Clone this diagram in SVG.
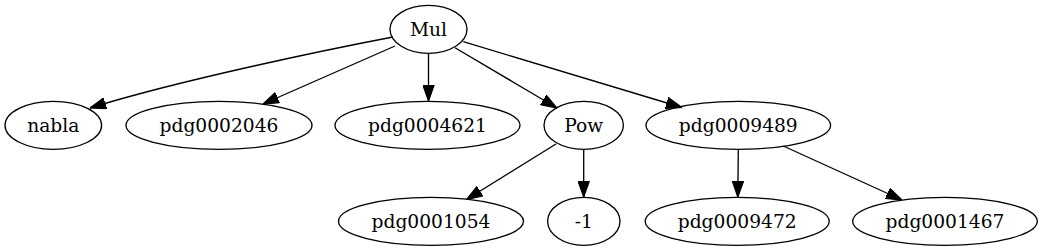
<svg xmlns="http://www.w3.org/2000/svg" width="1047" height="251" viewBox="0 0 1047 251">
<style>
.n ellipse{fill:none;stroke:#000;stroke-width:1.33}
.n text{font-family:"DejaVu Serif","Liberation Serif",serif;font-size:18.67px;text-anchor:middle;fill:#000}
.e path{fill:none;stroke:#000;stroke-width:1.33;marker-end:url(#ah)}
</style>
<defs>
<marker id="ah" markerUnits="userSpaceOnUse" markerWidth="16" markerHeight="12" viewBox="0 0 13.3 9.4" refX="13.3" refY="4.7" orient="auto">
<path d="M0,0 L13.3,4.7 L0,9.4 Z" fill="#000" stroke="#000" stroke-width="1"/>
</marker>
</defs>
<rect width="1047" height="251" fill="#fff"/>
<g id="edges" class="e">
<path d="M393,37 C330,49 180,80 90,108"/>
<path d="M395,46 L263,104"/>
<path d="M428.5,53 L428.5,101"/>
<path d="M455,47.7 L557,108"/>
<path d="M463.3,41.7 L682,107.5"/>
<path d="M556,144 L466.5,199.5"/>
<path d="M583.7,149.3 L583.7,197"/>
<path d="M738.3,149.3 L737.8,197"/>
<path d="M783.3,146 L902,200"/>
</g>
<g id="Mul" class="n"><ellipse cx="428.5" cy="29.3" rx="38.5" ry="24"/><text x="428.5" y="35.8">Mul</text></g>
<g id="nabla" class="n"><ellipse cx="53.3" cy="125.3" rx="48.3" ry="24"/><text x="53.3" y="131.8">nabla</text></g>
<g id="pdg0002046" class="n"><ellipse cx="219" cy="125.3" rx="93" ry="24"/><text x="219" y="131.8">pdg0002046</text></g>
<g id="pdg0004621" class="n"><ellipse cx="427.5" cy="125.3" rx="92.5" ry="24"/><text x="427.5" y="131.8">pdg0004621</text></g>
<g id="Pow" class="n"><ellipse cx="583.7" cy="125.3" rx="39.7" ry="24"/><text x="583.7" y="131.8">Pow</text></g>
<g id="pdg0009489" class="n"><ellipse cx="738.3" cy="125.3" rx="92.3" ry="24"/><text x="738.3" y="131.8">pdg0009489</text></g>
<g id="pdg0001054" class="n"><ellipse cx="431" cy="221.3" rx="92.5" ry="24"/><text x="431" y="227.8">pdg0001054</text></g>
<g id="minus1" class="n"><ellipse cx="583.8" cy="221.3" rx="36.2" ry="24"/><text x="583.8" y="227.8">-1</text></g>
<g id="pdg0009472" class="n"><ellipse cx="737.2" cy="221.3" rx="92" ry="24"/><text x="737.2" y="227.8">pdg0009472</text></g>
<g id="pdg0001467" class="n"><ellipse cx="945" cy="221.3" rx="92.3" ry="24"/><text x="945" y="227.8">pdg0001467</text></g>
</svg>
